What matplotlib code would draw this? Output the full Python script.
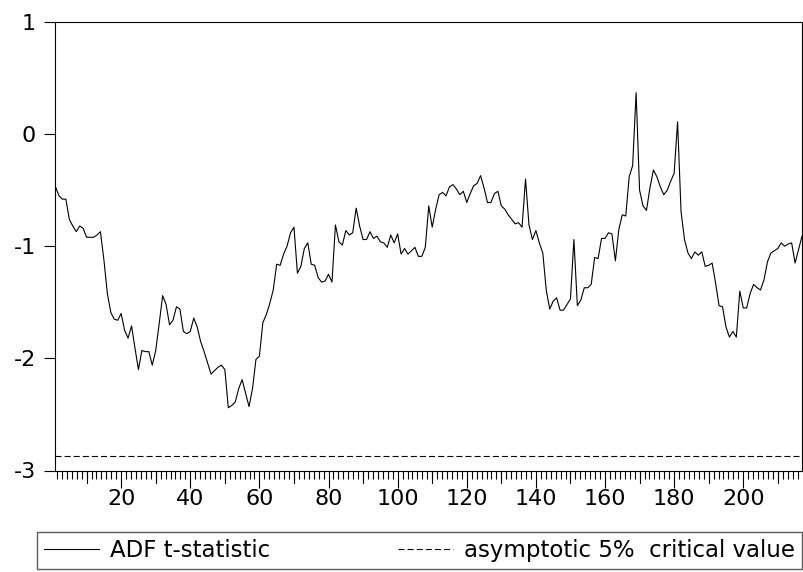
import matplotlib
matplotlib.use("Agg")
import matplotlib.pyplot as plt
from matplotlib.ticker import MultipleLocator, FixedLocator
from matplotlib.lines import Line2D
import numpy as np

plt.rcParams["font.family"] = ["DejaVu Sans"]
plt.rcParams["axes.unicode_minus"] = False

# Rolling ADF t-statistic, observations 1..217
adf_t = [
    -0.47, -0.55, -0.58, -0.58, -0.76, -0.82, -0.87, -0.82, -0.84, -0.92,
    -0.92, -0.92, -0.90, -0.87, -1.12, -1.42, -1.59, -1.65, -1.66, -1.60,
    -1.75, -1.82, -1.71, -1.91, -2.10, -1.93, -1.94, -1.94, -2.06, -1.93,
    -1.69, -1.44, -1.52, -1.70, -1.66, -1.54, -1.56, -1.76, -1.78, -1.76,
    -1.64, -1.72, -1.85, -1.94, -2.04, -2.14, -2.11, -2.08, -2.06, -2.10,
    -2.44, -2.42, -2.39, -2.27, -2.19, -2.31, -2.43, -2.27, -2.01, -1.98,
    -1.68, -1.61, -1.51, -1.39, -1.16, -1.17, -1.07, -1.00, -0.88, -0.83,
    -1.24, -1.18, -1.02, -0.97, -1.16, -1.17, -1.28, -1.32, -1.31, -1.25,
    -1.32, -0.81, -0.96, -0.99, -0.86, -0.90, -0.88, -0.66, -0.82, -0.94,
    -0.94, -0.87, -0.93, -0.91, -0.96, -0.97, -1.01, -0.90, -0.97, -0.89,
    -1.07, -1.02, -1.07, -1.04, -1.01, -1.09, -1.09, -1.01, -0.64, -0.83,
    -0.67, -0.54, -0.52, -0.55, -0.47, -0.45, -0.49, -0.54, -0.51, -0.61,
    -0.53, -0.46, -0.44, -0.37, -0.48, -0.61, -0.61, -0.53, -0.51, -0.64,
    -0.67, -0.72, -0.76, -0.80, -0.79, -0.83, -0.40, -0.81, -0.94, -0.86,
    -0.97, -1.06, -1.39, -1.56, -1.49, -1.46, -1.57, -1.57, -1.52, -1.47,
    -0.94, -1.53, -1.48, -1.37, -1.37, -1.34, -1.10, -1.11, -0.93, -0.93,
    -0.88, -0.89, -1.13, -0.85, -0.72, -0.73, -0.38, -0.28, 0.37, -0.50,
    -0.64, -0.68, -0.48, -0.32, -0.38, -0.47, -0.54, -0.50, -0.42, -0.35,
    0.11, -0.69, -0.94, -1.06, -1.11, -1.05, -1.08, -1.05, -1.18, -1.17,
    -1.15, -1.33, -1.53, -1.54, -1.72, -1.81, -1.76, -1.81, -1.40, -1.55,
    -1.55, -1.42, -1.34, -1.37, -1.39, -1.30, -1.14, -1.06, -1.04, -1.02,
    -0.97, -1.00, -0.98, -0.97, -1.15, -1.03, -0.91,
]
obs = np.arange(1, len(adf_t) + 1)
critical_value = -2.87

x_labels = [20, 40, 60, 80, 100, 120, 140, 160, 180, 200]
y_ticks = [-3, -2, -1, 0, 1]

fig = plt.figure(figsize=(8.04, 5.72), dpi=100)
ax = fig.add_axes([55.5 / 804, 1 - 470.5 / 572, (802 - 55.5) / 804, (470.5 - 22) / 572])

ax.plot(obs, adf_t, color="black", lw=0.8)
ax.axhline(critical_value, color="black", lw=0.8, ls=(0, (5.4, 2.8)))

ax.set_xlim(1, len(adf_t))
ax.set_ylim(-3, 1)

ax.set_yticks(y_ticks)
ax.set_yticklabels([str(v) for v in y_ticks])
ax.xaxis.set_major_locator(FixedLocator(x_labels))
ax.set_xticklabels([str(v) for v in x_labels])
ax.xaxis.set_minor_locator(MultipleLocator(10 / 7))

ax.tick_params(axis="both", which="major", direction="out", labelsize=16, colors="black", width=0.8)
ax.tick_params(axis="y", length=8, pad=6)
ax.tick_params(axis="x", which="major", length=12, pad=1.5)
ax.tick_params(axis="x", which="minor", direction="out", length=6, width=0.8)
ax.tick_params(top=False, right=False)

# long ticks at the unlabelled tens
for t in range(10, len(adf_t), 20):
    ax.plot([t, t], [0, -12 / 448], transform=ax.get_xaxis_transform(),
            color="black", lw=0.8, clip_on=False)

for s in ax.spines.values():
    s.set_linewidth(0.8)
    s.set_color("black")

handles = [
    Line2D([], [], color="black", lw=0.8),
    Line2D([], [], color="black", lw=0.8, ls=(0, (5.4, 2.8))),
]
leg = fig.legend(handles, ["ADF t-statistic", "asymptotic 5%  critical value"],
                 loc="lower left", bbox_to_anchor=(37 / 804, 1 - 569 / 572, (802 - 37) / 804, 36 / 572),
                 mode="expand", ncol=2, fontsize=16.5, frameon=True, fancybox=False,
                 handlelength=2.4, handletextpad=0.5, borderaxespad=0, borderpad=0.3,
                 columnspacing=1.0)
leg.get_frame().set_edgecolor("#333333")
leg.get_frame().set_linewidth(1.0)

fig.savefig("out.png", dpi=100)
